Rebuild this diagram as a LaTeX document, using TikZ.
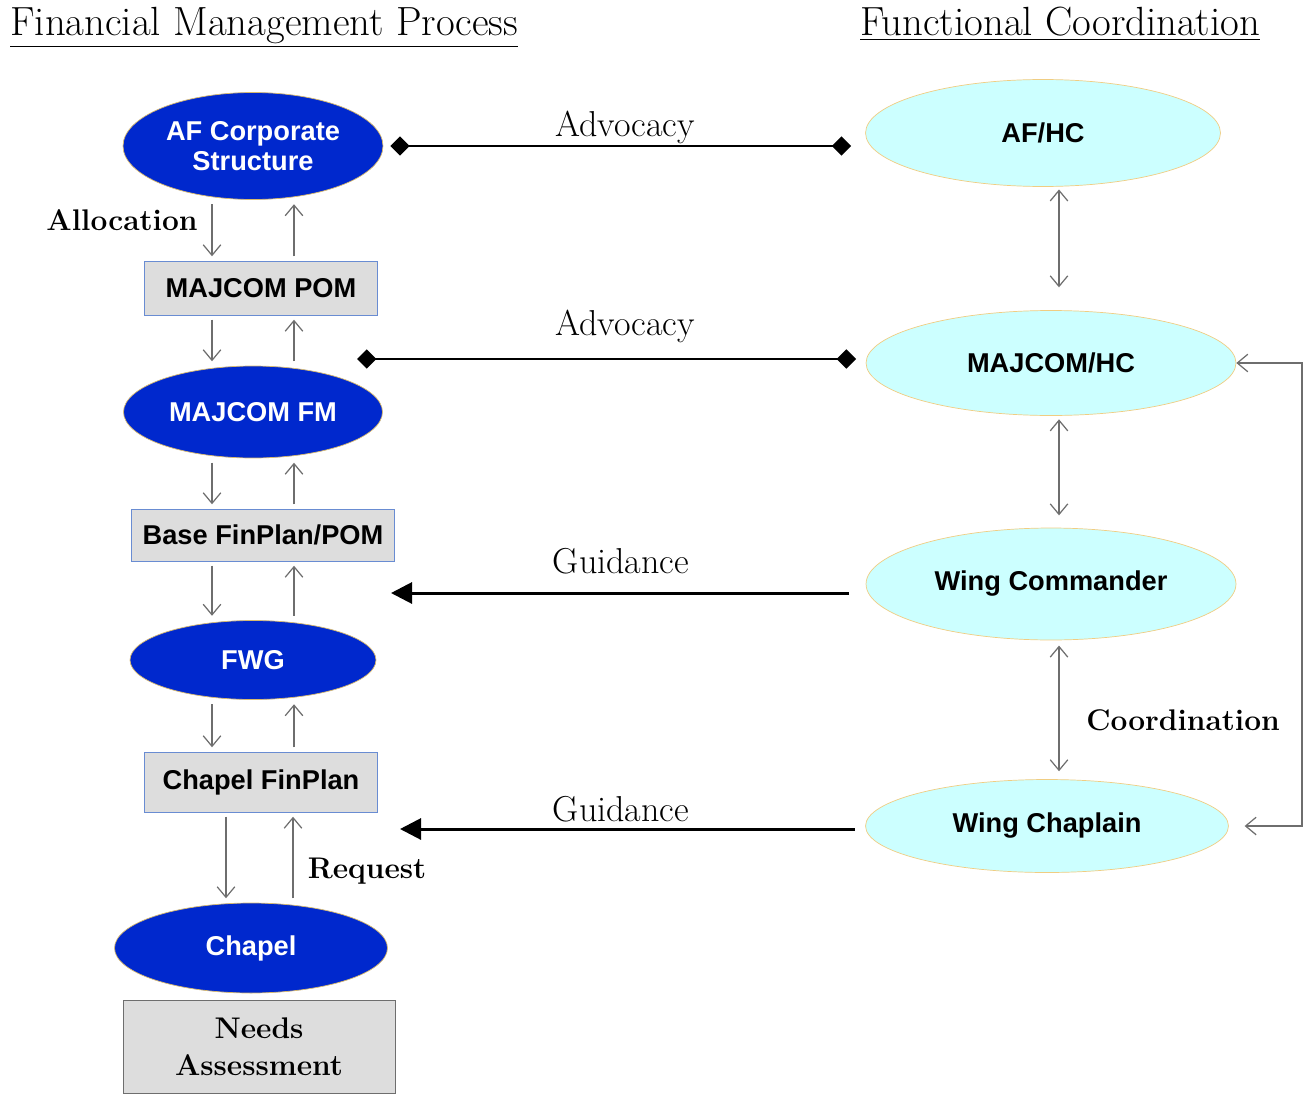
\documentclass[tikz,border=0pt]{standalone}
\usepackage{fontspec}
\newfontfamily\boxfont{Liberation Sans}
\usetikzlibrary{shapes.geometric,arrows.meta}

\definecolor{fmblue}{RGB}{0,40,205}
\definecolor{fmrim}{RGB}{215,185,110}
\definecolor{hcfill}{RGB}{204,255,255}
\definecolor{hcrim}{RGB}{240,205,130}
\definecolor{boxfill}{RGB}{221,221,221}
\definecolor{boxrim}{RGB}{105,140,210}
\definecolor{linegray}{RGB}{110,110,110}

\begin{document}
\begin{tikzpicture}[x=0.02cm, y=-0.02cm,
	fmoval/.style={ellipse, draw=fmrim, fill=fmblue, text=white, inner sep=0pt, align=center,
		font=\boxfont\bfseries\fontsize{15.5}{17.5}\selectfont},
	hcoval/.style={ellipse, draw=hcrim, fill=hcfill, text=black, inner sep=0pt,
		font=\boxfont\bfseries\fontsize{15.5}{17.5}\selectfont},
	fmbox/.style={rectangle, draw=boxrim, fill=boxfill, inner sep=0pt,
		font=\boxfont\bfseries\fontsize{15.5}{17.5}\selectfont},
	needbox/.style={rectangle, draw=linegray, fill=boxfill, inner sep=0pt, align=center,
		font=\bfseries\fontsize{17}{21}\selectfont},
	heading/.style={anchor=base west, inner sep=0pt, font=\fontsize{23.2}{26}\selectfont},
	tag/.style={anchor=base, inner sep=0pt, font=\fontsize{20.5}{23}\selectfont},
	boldtag/.style={anchor=base, inner sep=0pt, font=\bfseries\fontsize{17}{20}\selectfont},
	flow/.style={draw=linegray, line width=0.7pt, -{Straight Barb[length=6pt,width=10pt]},
		shorten <=2.5pt, shorten >=2.5pt},
	flowboth/.style={draw=linegray, line width=0.7pt,
		{Straight Barb[length=6pt,width=10pt]}-{Straight Barb[length=6pt,width=10pt]}},
	advo/.style={line width=1.7pt, {Diamond[length=11pt,width=11pt]}-{Diamond[length=11pt,width=11pt]}},
	guid/.style={line width=1.7pt, -{Triangle[length=12pt,width=12pt]}}]

	\useasboundingbox (0,0) rectangle (1304,1095);

	% headings
	\node[heading] (fmhead) at (10,36) {\underline{Financial Management Process}};
	\node[heading] (fchead) at (860,36) {\underline{Functional Coordination}};

	% financial management column
	\node[fmoval, minimum width=5.2cm, minimum height=2.14cm] (afcorp) at (253,146) {AF Corporate\\Structure};
	\node[fmbox, minimum width=4.66cm, minimum height=1.08cm] (majpom) at (261,288) {MAJCOM POM};
	\node[fmoval, minimum width=5.18cm, minimum height=1.84cm] (majfm) at (253,412) {MAJCOM FM};
	\node[fmbox, minimum width=5.26cm, minimum height=1.04cm] (basepom) at (263,535) {Base FinPlan/POM};
	\node[fmoval, minimum width=4.92cm, minimum height=1.58cm] (fwg) at (253,660) {FWG};
	\node[fmbox, minimum width=4.66cm, minimum height=1.2cm] (chapfin) at (261,782) {Chapel FinPlan};
	\node[fmoval, minimum width=5.46cm, minimum height=1.8cm] (chapel) at (251,948) {Chapel};
	\node[needbox, minimum width=5.44cm, minimum height=1.86cm] (needs) at (259,1047) {Needs\\Assessment};

	% functional coordination column
	\node[hcoval, minimum width=7.1cm, minimum height=2.14cm] (afhc) at (1043,133) {AF/HC};
	\node[hcoval, minimum width=7.4cm, minimum height=2.1cm] (majhc) at (1051,363) {MAJCOM/HC};
	\node[hcoval, minimum width=7.4cm, minimum height=2.24cm] (wingcmd) at (1051,584) {Wing Commander};
	\node[hcoval, minimum width=7.26cm, minimum height=1.86cm] (wingchap) at (1047,826) {Wing Chaplain};

	\coordinate (dncol) at (212,0);
	\coordinate (upcol) at (294,0);
	\coordinate (dncolb) at (226,0);
	\coordinate (upcolb) at (293,0);
	\coordinate (vcol) at (1059,0);
	\coordinate (loopcol) at (1302,0);

	% up and down flows
	\foreach \a/\b in {afcorp/majpom, majpom/majfm, majfm/basepom, basepom/fwg, fwg/chapfin}{
		\draw[flow] (\a.south -| dncol) -- (\b.north -| dncol);
		\draw[flow] (\b.north -| upcol) -- (\a.south -| upcol);
	}
	\draw[flow] (chapfin.south -| dncolb) -- (chapel.north -| dncolb);
	\draw[flow] (chapel.north -| upcolb) -- (chapfin.south -| upcolb);

	\draw[flowboth, shorten <=1.5pt, shorten >=13pt] (afhc.south -| vcol) -- (majhc.north -| vcol);
	\draw[flowboth, shorten <=2pt, shorten >=7pt] (majhc.south -| vcol) -- (wingcmd.north -| vcol);
	\draw[flowboth, shorten <=3pt, shorten >=4.5pt] (wingcmd.south -| vcol) -- (wingchap.north -| vcol);
	\draw[flowboth, shorten >=9pt] (majhc.east) -- (majhc.east -| loopcol) |- (wingchap.east);

	% advocacy and guidance
	\coordinate (advtwo) at (357,359);
	\coordinate (guidone) at (391,593);
	\coordinate (guidtwo) at (400,829);
	\draw[advo, shorten <=4pt, shorten >=8pt] (afcorp.east) -- (afcorp.east -| afhc.west);
	\draw[advo, shorten >=5.5pt] (advtwo) -- (advtwo -| majhc.west);
	\draw[guid, shorten <=9.5pt] (guidone -| wingcmd.west) -- (guidone);
	\draw[guid, shorten <=6pt] (guidtwo -| wingchap.west) -- (guidtwo);

	\node[tag] (advlabone) at (625,136) {Advocacy};
	\node[tag] (advlabtwo) at (625,335) {Advocacy};
	\node[tag] (guidlabone) at (621,573) {Guidance};
	\node[tag] (guidlabtwo) at (621,821) {Guidance};
	\node[boldtag] (alloclab) at (122,230) {Allocation};
	\node[boldtag] (reqlab) at (367,878) {Request};
	\node[boldtag] (coordlab) at (1183,730) {Coordination};

\end{tikzpicture}
\end{document}
